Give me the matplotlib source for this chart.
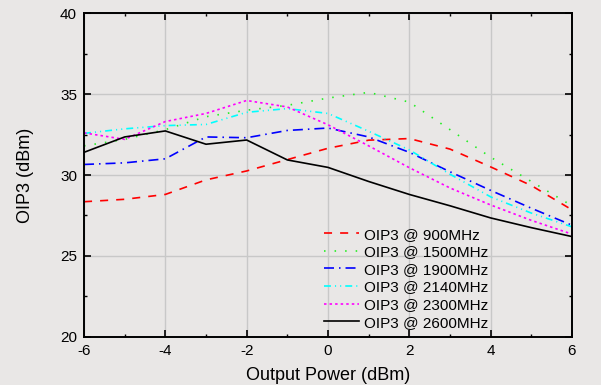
import matplotlib
matplotlib.use('Agg')
import matplotlib.pyplot as plt
from matplotlib.ticker import MultipleLocator

# output power (dBm)
power = [-6, -5, -4, -3, -2, -1, 0, 1, 2, 3, 4, 5, 6]

# OIP3 (dBm) per frequency
oip3_900 = [28.35, 28.5, 28.8, 29.7, 30.25, 30.95, 31.65, 32.15, 32.25, 31.6, 30.5, 29.35, 27.85]
oip3_1500 = [31.8, 32.2, 32.8, 33.6, 34.0, 34.3, 34.75, 35.1, 34.5, 32.8, 31.1, 29.6, 28.1]
oip3_1900 = [30.65, 30.75, 31.0, 32.35, 32.3, 32.75, 32.9, 32.35, 31.4, 30.2, 29.05, 27.95, 26.9]
oip3_2140 = [32.57, 32.85, 33.05, 33.12, 33.87, 34.1, 33.8, 32.7, 31.55, 30.05, 28.65, 27.65, 26.8]
oip3_2300 = [32.6, 32.2, 33.3, 33.8, 34.6, 34.2, 33.1, 31.8, 30.45, 29.2, 28.15, 27.2, 26.35]
oip3_2600 = [31.4, 32.35, 32.72, 31.9, 32.16, 30.93, 30.47, 29.6, 28.8, 28.1, 27.35, 26.75, 26.2]

labels = ['OIP3 @ 900MHz', 'OIP3 @ 1500MHz', 'OIP3 @ 1900MHz',
          'OIP3 @ 2140MHz', 'OIP3 @ 2300MHz', 'OIP3 @ 2600MHz']

plt.rcParams['font.family'] = ['Liberation Sans', 'DejaVu Sans']
plt.rcParams['lines.scale_dashes'] = False
plt.rcParams['axes.unicode_minus'] = False

bg = '#e9e7e6'
fig = plt.figure(figsize=(6.01, 3.85), dpi=100, facecolor=bg)
ax = fig.add_axes([0.1398, 0.1247, 0.8119, 0.8415], facecolor=bg)

series = [oip3_900, oip3_1500, oip3_1900, oip3_2140, oip3_2300, oip3_2600]
colors = ['#ff0000', '#22ee22', '#0000ff', '#00ffff', '#ff00ff', '#000000']
dashes = [(5.8, 5.8), (1.1, 6.5), (7.2, 3.6, 1.1, 3.6),
          (5.0, 2.9, 0.8, 2.9, 0.8, 2.9), (1.8, 2.2), None]

for vals, col, d, lab in zip(series, colors, dashes, labels):
    line, = ax.plot(power, vals, color=col, lw=1.2, label=lab)
    if d is not None:
        line.set_dashes(d)

ax.set_xlim(-6, 6)
ax.set_ylim(20, 40)
ax.xaxis.set_major_locator(MultipleLocator(2))
ax.xaxis.set_minor_locator(MultipleLocator(1))
ax.yaxis.set_major_locator(MultipleLocator(5))
ax.yaxis.set_minor_locator(MultipleLocator(2.5))

ax.grid(True, which='major', color='#c8c8c8', lw=1.0)
ax.set_axisbelow(True)
for s in ax.spines.values():
    s.set_linewidth(1.4)
    s.set_color('black')

ax.tick_params(which='major', direction='in', length=5, width=1.2,
               top=True, right=True, labelsize=11, pad=5)
ax.tick_params(which='minor', direction='in', length=2.5, width=1.0,
               top=True, right=True)

ax.set_xlabel('Output Power (dBm)', fontsize=13, labelpad=6.5)
ax.set_ylabel('OIP3 (dBm)', fontsize=13, labelpad=19)

ax.legend(loc='lower left', bbox_to_anchor=(0.47, -0.01), frameon=False,
          fontsize=11, handlelength=2.3, handletextpad=0.33,
          labelspacing=0.235, borderaxespad=0.3)

fig.savefig('out.png', dpi=100, facecolor=bg)
